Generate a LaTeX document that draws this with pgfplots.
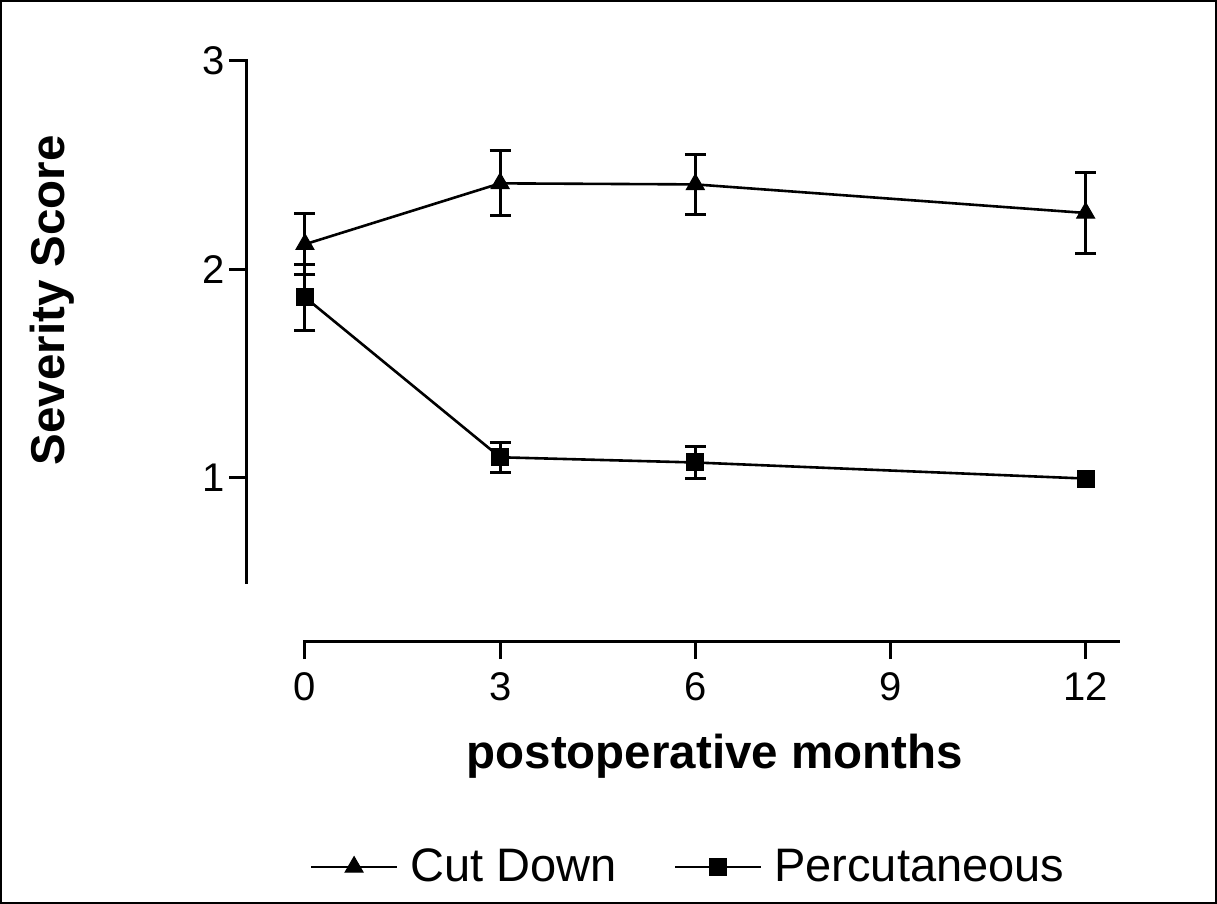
\documentclass[border=0pt]{standalone}
\usepackage{pgfplots}
\pgfplotsset{compat=1.18}
\usepackage{fontspec}
\setmainfont{Liberation Sans}
\begin{document}
\begin{tikzpicture}
\useasboundingbox (0,0) rectangle (608.5pt,452pt);
\draw[line width=1pt] (0.5pt,0.5pt) rectangle (608pt,451.5pt);
\begin{axis}[
  at={(123.4pt,131.15pt)}, anchor=south west,
  scale only axis, width=435.7pt, height=290.5pt,
  xmin=-0.894, xmax=12.5, ymin=0.215, ymax=3,
  axis x line*=bottom, axis y line*=left,
  axis line style={draw=none},
  xtick={0,3,6,9,12}, ytick={1,2,3},
  minor tick num=0,
  tick align=outside, major tick length=8.75pt,
  tick style={black, line width=1.5pt},
  /pgf/number format/assume math mode=true,
  tick label style={font=\fontsize{20}{24}\selectfont},
  xticklabel style={inner sep=0pt, yshift=-6.3pt},
  yticklabel style={inner sep=0pt, xshift=-2.2pt},
  clip=false,
  xlabel={postoperative months},
  ylabel={Severity Score},
  label style={font=\bfseries\fontsize{23.75}{28}\selectfont},
  xlabel style={at={(axis description cs:0.537,-0.2174)}, anchor=base},
  ylabel style={at={(axis description cs:-0.2089,0.588)}, anchor=base},
  legend columns=2,
  legend style={at={(axis description cs:0.0723,-0.3878)}, anchor=west,
    draw=none, fill=none, inner sep=0pt, outer sep=0pt,
    font=\fontsize{23.5}{28}\selectfont,
    nodes={inner sep=0pt},
    /tikz/every odd column/.append style={column sep=6pt},
    /tikz/every even column/.append style={column sep=28.5pt}},
  legend cell align=left,
  legend image code/.code={\draw[mark repeat=2,mark phase=2,#1] plot coordinates {(0pt,0pt) (21.5pt,0pt) (43pt,0pt)};},
]
% axis lines (Prism-style offset axes)
\draw[line width=1.5pt, line cap=rect] (axis cs:0,0.215) -- (axis cs:12.5,0.215);
\draw[line width=1.5pt, line cap=rect] (axis cs:-0.894,0.5) -- (axis cs:-0.894,3);

% error bars: Cut Down
\addplot[forget plot, only marks, mark=none,
  error bars/.cd, y dir=both, y explicit,
  error bar style={draw=black, line width=1.5pt},
  error mark options={draw=black, rotate=90, mark size=5.25pt, line width=1.5pt}]
  table[x=x, y=y, y error=e] {
  x y e
  0 2.120 0.147
  3 2.412 0.156
  6 2.407 0.142
  12 2.270 0.196
  };
% error bars: Percutaneous
\addplot[forget plot, only marks, mark=none,
  error bars/.cd, y dir=both, y explicit,
  error bar style={draw=black, line width=1.5pt},
  error mark options={draw=black, rotate=90, mark size=5.25pt, line width=1.5pt}]
  table[x=x, y=y, y error=e] {
  x y e
  0 1.866 0.157
  3 1.099 0.072
  6 1.074 0.076
  };

\addplot[black, line width=1.3pt, mark=triangle*, mark options={solid, fill=black, line width=0.5pt, mark size=5.2pt}]
  table[x=x, y=y] {
  x y
  0 2.120
  3 2.412
  6 2.407
  12 2.270
  };
\addlegendentry{Cut Down}
\addplot[black, line width=1.3pt, mark=square*, mark options={solid, fill=black, line width=0.5pt, mark size=4.25pt}]
  table[x=x, y=y] {
  x y
  0 1.866
  3 1.099
  6 1.074
  12 0.997
  };
\addlegendentry{Percutaneous}
\end{axis}
\end{tikzpicture}
\end{document}
